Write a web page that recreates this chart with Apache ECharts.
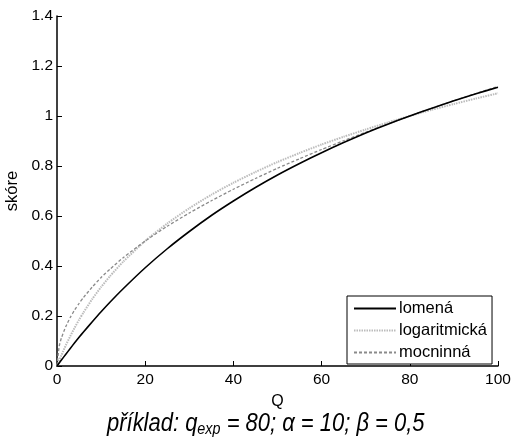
<!DOCTYPE html>
<html>
<head>
<meta charset="utf-8">
<script src="https://cdn.jsdelivr.net/npm/echarts@6/dist/echarts.min.js"></script>
<style>
  html, body { margin: 0; padding: 0; background: #fff; }
  #chart { width: 511px; height: 443px; }
</style>
</head>
<body>
<div id="chart"></div>
<script>
  // hodnoty Q na ose x
  const qValues = [0, 0.5, 1, 2, 3, 4, 5, 6, 8, 10, 12, 15, 20, 25, 30, 35, 40, 45, 50, 55, 60, 65, 70, 75, 80, 85, 90, 95, 100];
  // odečtené hodnoty skóre
  const lomena = [0, 0.012, 0.024, 0.047, 0.070, 0.093, 0.115, 0.136, 0.177, 0.217, 0.255, 0.309, 0.393, 0.469, 0.538, 0.602, 0.660, 0.714, 0.764, 0.810, 0.853, 0.894, 0.932, 0.967, 1.000, 1.031, 1.061, 1.089, 1.115];
  const logaritmicka = [0, 0.022, 0.043, 0.083, 0.119, 0.153, 0.185, 0.214, 0.268, 0.316, 0.359, 0.417, 0.500, 0.570, 0.631, 0.685, 0.733, 0.776, 0.816, 0.852, 0.886, 0.917, 0.946, 0.974, 1.000, 1.025, 1.048, 1.070, 1.091];
  const mocninna = [0, 0.079, 0.112, 0.158, 0.194, 0.224, 0.250, 0.274, 0.316, 0.354, 0.387, 0.433, 0.500, 0.559, 0.612, 0.661, 0.707, 0.750, 0.791, 0.829, 0.866, 0.901, 0.935, 0.968, 1.000, 1.031, 1.061, 1.090, 1.118];
  const xTicks = [0, 20, 40, 60, 80, 100];
  const yTicks = [0, 0.2, 0.4, 0.6, 0.8, 1, 1.2, 1.4];

  const font = '"Liberation Sans", Arial, sans-serif';
  const pairs = arr => qValues.map((q, i) => [q, arr[i]]);

  let myChart = echarts.init(document.getElementById('chart'));
  myChart.setOption({
    animation: false,
    textStyle: { fontFamily: font },
    // popisek pod grafem, zúžené písmo
    graphic: [{
      type: 'text',
      x: 107,
      y: 410,
      scaleX: 0.845,
      style: {
        text: 'příklad: q{sub|exp} = 80; α = 10; β = 0,5',
        fontFamily: font,
        fontSize: 26,
        fontStyle: 'italic',
        fill: '#000',
        verticalAlign: 'top',
        rich: {
          sub: { fontFamily: font, fontSize: 17, fontStyle: 'italic', fill: '#000', verticalAlign: 'bottom', padding: [11, 0, 0, 0] }
        }
      }
    }],
    grid: { left: 57, top: 16, width: 441, height: 350, containLabel: false, outerBoundsMode: 'none' },
    legend: {
      orient: 'vertical',
      left: 347,
      top: 296,
      padding: [4, 5, 3, 6],
      itemGap: 5,
      itemWidth: 42,
      itemHeight: 16,
      borderColor: '#000',
      borderWidth: 1,
      backgroundColor: '#fff',
      itemStyle: { opacity: 0 },
      textStyle: { fontFamily: font, fontSize: 16.5, color: '#000', padding: [0, 0, 0, -2] },
      data: ['lomená', 'logaritmická', 'mocninná']
    },
    xAxis: {
      type: 'value',
      min: 0,
      max: 100,
      interval: 20,
      name: 'Q',
      nameLocation: 'middle',
      nameGap: 28,
      nameTextStyle: { fontFamily: font, fontSize: 16, color: '#000' },
      axisLine: { lineStyle: { color: '#000', width: 1.5 } },
      axisTick: { inside: true, length: 5, lineStyle: { color: '#000' } },
      axisLabel: { fontFamily: font, fontSize: 15.5, color: '#000', margin: 6,
        formatter: v => xTicks.includes(v) ? String(v) : '' },
      splitLine: { show: false }
    },
    yAxis: {
      type: 'value',
      min: 0,
      max: 1.4,
      interval: 0.2,
      name: 'skóre',
      nameLocation: 'middle',
      nameGap: 36,
      nameTextStyle: { fontFamily: font, fontSize: 16.5, color: '#000' },
      axisLine: { show: true, lineStyle: { color: '#000', width: 1.5 } },
      axisTick: { show: true, inside: true, length: 5, lineStyle: { color: '#000' } },
      axisLabel: { fontFamily: font, fontSize: 15.5, color: '#000', margin: 4,
        formatter: v => {
          const t = yTicks.find(y => Math.abs(y - v) < 1e-6);
          return t === undefined ? '' : String(t);
        } },
      splitLine: { show: false }
    },
    series: [
      {
        name: 'lomená',
        type: 'line',
        symbol: 'none',
        smooth: 0.2,
        data: pairs(lomena),
        lineStyle: { color: '#000', width: 1.6, type: 'solid' },
        itemStyle: { color: '#000' },
        z: 3
      },
      {
        name: 'logaritmická',
        type: 'line',
        symbol: 'none',
        smooth: 0.2,
        data: pairs(logaritmicka),
        lineStyle: { color: '#bcbcbc', width: 2, type: [1.5, 1] },
        itemStyle: { color: '#bcbcbc' },
        z: 2
      },
      {
        name: 'mocninná',
        type: 'line',
        symbol: 'none',
        smooth: 0.2,
        data: pairs(mocninna),
        lineStyle: { color: '#8a8a8a', width: 1.3, type: [3, 2] },
        itemStyle: { color: '#8a8a8a' },
        z: 2
      }
    ]
  });
</script>
</body>
</html>
